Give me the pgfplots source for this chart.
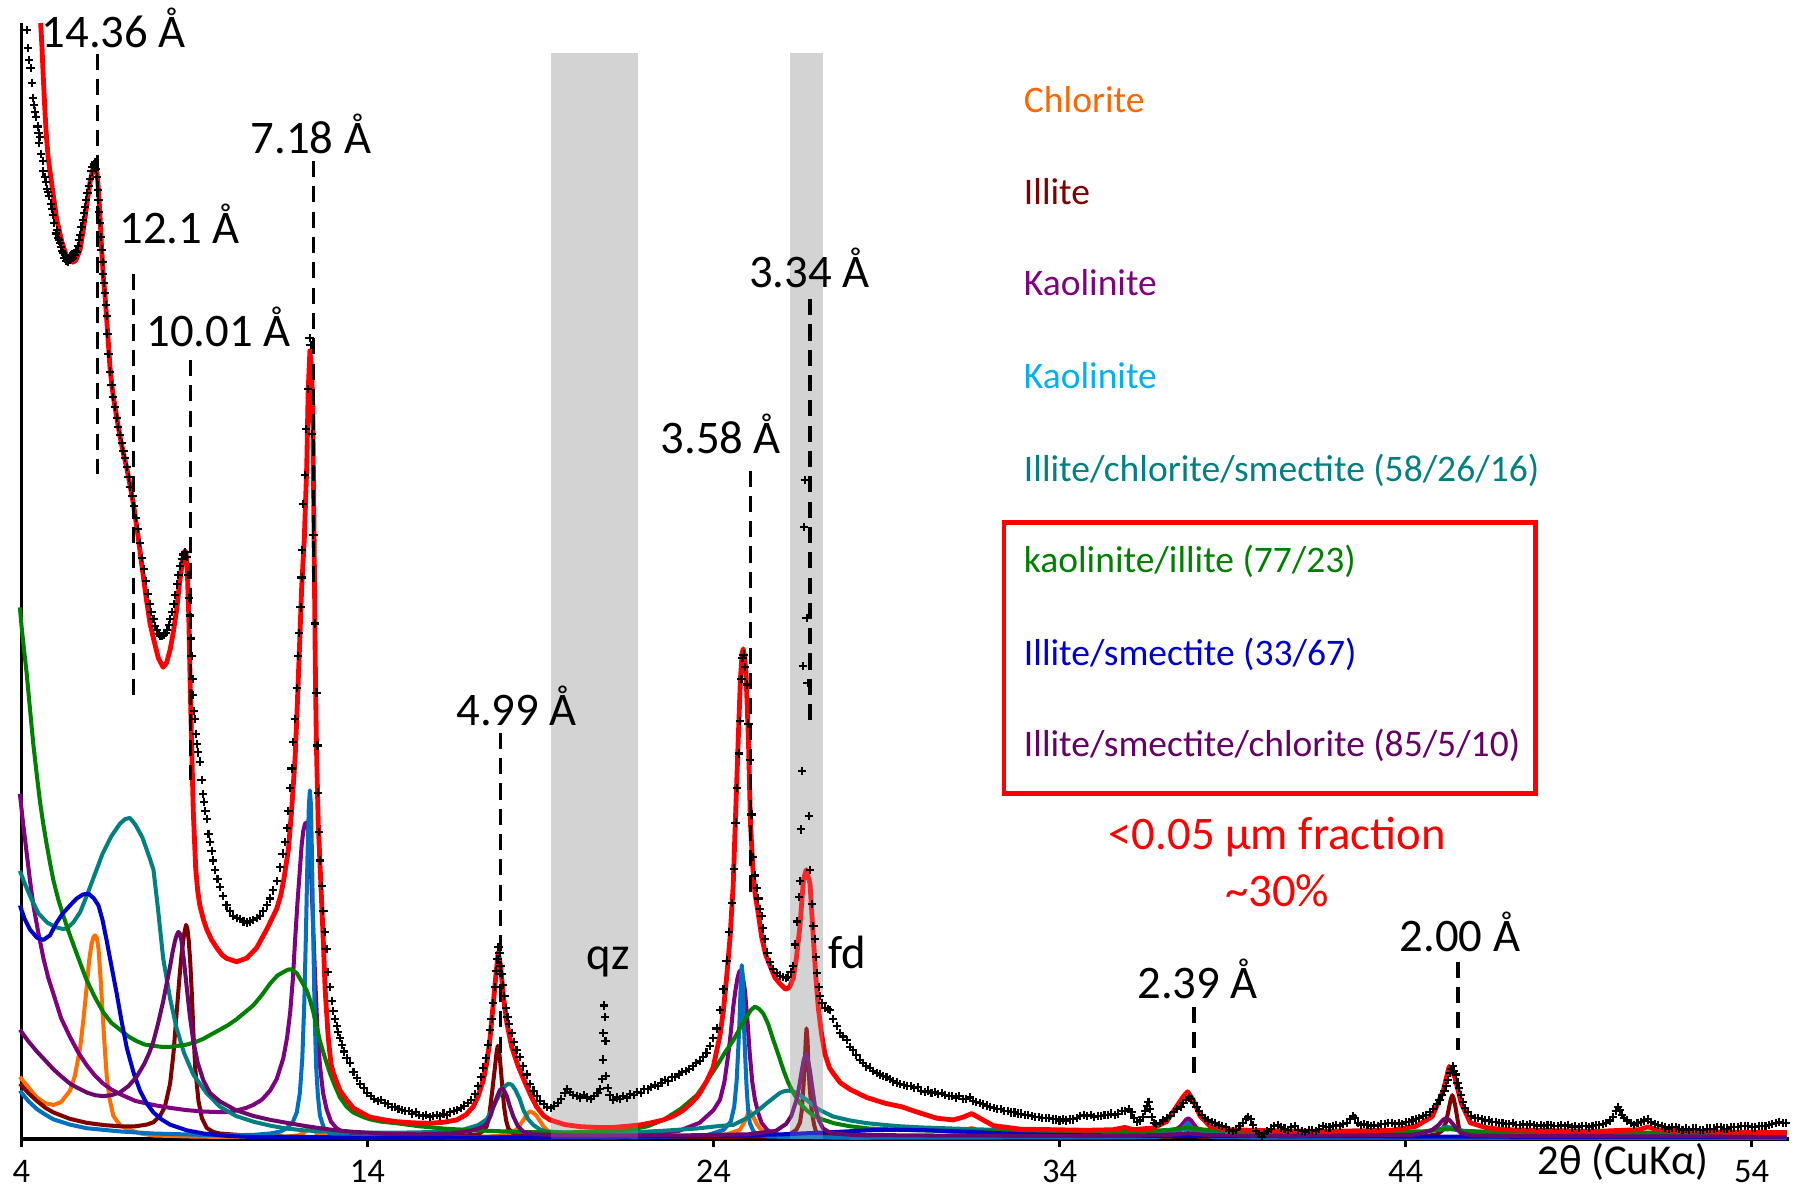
\documentclass[border=0pt]{standalone}
\usepackage{fontspec}
\setmainfont{Carlito}
\usepackage{pgfplots}
\usepackage{pgfplotstable}
\pgfplotsset{compat=1.18}
\definecolor{chl}{RGB}{255,110,0}
\definecolor{ill}{RGB}{128,0,0}
\definecolor{kao}{RGB}{128,0,128}
\definecolor{kaob}{RGB}{0,112,192}
\definecolor{kaobt}{RGB}{0,176,240}
\definecolor{ics}{RGB}{0,128,128}
\definecolor{ki}{RGB}{0,128,0}
\definecolor{is}{RGB}{0,0,204}
\definecolor{isc}{RGB}{108,8,108}
\definecolor{chlt}{RGB}{255,102,0}
\definecolor{isct}{RGB}{102,0,102}
\definecolor{bandgray}{RGB}{211,211,211}
\newcommand{\plab}{\fontsize{20.3}{24}\selectfont}
\newcommand{\leg}{\fontsize{16.3}{19}\selectfont}
\tikzset{pk/.style={black, line width=1.6pt, dash pattern=on 7pt off 4pt},
  lab/.style={anchor=base west, inner sep=0pt, font=\plab},
  comp/.style={line width=1.75pt, line join=round, no markers}}
\pgfplotstableread{
x y
4.17 964
4.20 948
4.23 938
4.27 931
4.30 918
4.33 905
4.37 899
4.40 893
4.43 888
4.47 880
4.50 874
4.52 866
4.54 871
4.58 856
4.62 850
4.64 841
4.68 836
4.71 832
4.75 826
4.78 823
4.81 820
4.85 813
4.88 808
4.91 803
4.95 796
5.00 787
5.03 790
5.06 783
5.09 781
5.12 779
5.15 775
5.18 772
5.21 770
5.24 766
5.27 768
5.30 763
5.33 765
5.36 762
5.39 766
5.42 764
5.45 768
5.48 766
5.51 770
5.54 768
5.57 772
5.60 771
5.63 776
5.66 781
5.70 786
5.74 793
5.78 799
5.81 805
5.84 810
5.88 816
5.91 822
5.95 828
5.99 834
6.03 841
6.06 845
6.10 847
6.13 849
6.16 843
6.18 836
6.21 825
6.23 816
6.25 806
6.27 796
6.30 784
6.32 773
6.35 762
6.37 752
6.40 744
6.42 735
6.45 725
6.47 715
6.49 700
6.52 682
6.56 667
6.61 655
6.66 645
6.71 636
6.76 627
6.80 619
6.85 612
6.90 605
6.95 598
7.00 592
7.05 584
7.10 575
7.15 567
7.21 559
7.26 550
7.32 540
7.37 530
7.43 518
7.49 505
7.54 495
7.60 485
7.66 474
7.71 465
7.76 458
7.82 452
7.87 446
7.92 442
7.97 439
8.02 437
8.07 437
8.12 438
8.17 440
8.21 442
8.26 447
8.30 452
8.35 458
8.40 465
8.45 473
8.50 482
8.54 490
8.59 498
8.64 504
8.69 508
8.74 510
8.78 506
8.82 490
8.85 470
8.87 455
8.90 435
8.92 420
8.95 400
8.97 386
9.00 372
9.02 365
9.05 352
9.07 343
9.11 336
9.16 328
9.21 312
9.25 300
9.28 293
9.32 285
9.36 278
9.41 265
9.45 258
9.50 250
9.55 242
9.60 234
9.67 226
9.74 219
9.83 211
9.93 203
10.03 198
10.13 194
10.22 192
10.32 191
10.42 189
10.51 188
10.60 189
10.70 190
10.80 192
10.90 194
10.99 198
11.09 203
11.18 209
11.28 216
11.38 224
11.48 236
11.55 248
11.62 258
11.68 270
11.72 285
11.76 305
11.81 322
11.86 345
11.91 365
11.96 392
12.00 420
12.03 440
12.07 462
12.10 488
12.12 512
12.15 552
12.20 577
12.23 617
12.29 652
12.33 696
12.36 690
12.39 613
12.44 525
12.49 448
12.53 388
12.56 342
12.58 301
12.60 267
12.63 242
12.68 220
12.73 198
12.78 180
12.82 165
12.87 145
12.92 132
12.97 120
13.02 111
13.07 104
13.12 98
13.16 93
13.21 88
13.26 82
13.33 76
13.40 70
13.50 66
13.60 58
13.70 53
13.80 48
13.90 44
14.00 40
14.10 37
14.20 35
14.30 33
14.40 34
14.50 31
14.60 30
14.70 28
14.80 28
14.90 26
15.00 25
15.10 24
15.20 24
15.30 22
15.40 23
15.50 21
15.60 20
15.70 21
15.80 19
15.90 20
16.00 21
16.10 20
16.20 22
16.30 21
16.40 23
16.50 24
16.60 25
16.70 27
16.80 29
16.90 31
17.00 34
17.10 39
17.20 46
17.28 54
17.35 62
17.42 70
17.48 82
17.54 95
17.59 104
17.64 118
17.68 132
17.72 146
17.76 156
17.79 167
17.82 162
17.85 150
17.88 143
17.92 134
17.96 124
18.00 114
18.05 106
18.10 100
18.17 92
18.24 84
18.31 77
18.40 71
18.50 63
18.60 56
18.70 48
18.80 42
18.90 37
19.00 33
19.10 30
19.20 28
19.30 27
19.40 29
19.50 31
19.60 35
19.70 40
19.78 43
19.86 41
19.95 38
20.05 37
20.14 36
20.25 38
20.35 36
20.45 35
20.55 37
20.65 40
20.72 43
20.77 52
20.80 69
20.82 92
20.84 116
20.86 106
20.88 85
20.90 55
20.94 44
21.00 38
21.10 34
21.20 36
21.30 35
21.40 37
21.50 36
21.60 39
21.70 38
21.80 41
21.90 40
22.00 43
22.10 43
22.20 45
22.30 47
22.40 46
22.50 49
22.60 51
22.70 50
22.80 54
22.90 54
23.00 56
23.10 58
23.20 59
23.30 61
23.40 63
23.50 66
23.60 68
23.70 71
23.80 75
23.90 81
23.99 88
24.09 96
24.19 112
24.29 130
24.38 155
24.45 180
24.53 205
24.59 235
24.64 275
24.69 305
24.73 335
24.77 363
24.81 400
24.84 418
24.87 421
24.91 410
24.96 395
25.01 361
25.05 329
25.10 282
25.15 245
25.20 229
25.25 218
25.30 209
25.35 200
25.39 194
25.44 183
25.49 174
25.56 162
25.63 154
25.72 148
25.83 144
25.93 142
26.02 141
26.10 140
26.16 141
26.23 145
26.29 150
26.36 169
26.42 189
26.47 210
26.50 224
26.52 269
26.55 320
26.58 411
26.61 532
26.64 573
26.69 453
26.72 396
26.76 281
26.79 234
26.84 204
26.89 185
26.93 174
26.97 158
27.00 144
27.04 132
27.08 124
27.15 118
27.22 114
27.30 113
27.37 112
27.45 104
27.56 98
27.66 92
27.75 89
27.85 86
27.95 80
28.04 77
28.13 73
28.23 69
28.33 66
28.42 63
28.52 62
28.62 59
28.72 57
28.81 56
28.90 55
29.00 54
29.10 52
29.20 50
29.30 49
29.39 48
29.50 47
29.60 46
29.70 46
29.80 44
29.90 45
30.00 42
30.10 41
30.20 42
30.30 40
30.40 41
30.50 39
30.60 40
30.70 38
30.80 37
30.90 37
31.00 36
31.10 37
31.20 35
31.30 35
31.40 36
31.50 33
31.60 32
31.70 31
31.80 30
31.90 29
32.00 28
32.10 27
32.20 26
32.30 26
32.40 24
32.50 24
32.60 23
32.70 23
32.80 22
32.90 22
33.00 21
33.10 21
33.20 20
33.30 19
33.40 19
33.50 18
33.60 18
33.70 18
33.80 17
33.90 17
34.00 16
34.10 17
34.20 16
34.30 17
34.40 17
34.50 18
34.60 20
34.70 21
34.80 20
34.90 21
35.00 19
35.10 20
35.20 20
35.30 21
35.40 21
35.50 22
35.60 21
35.70 22
35.80 24
35.90 24
36.00 26
36.08 23
36.16 18
36.24 15
36.32 16
36.40 19
36.47 24
36.53 29
36.57 32
36.61 26
36.66 19
36.72 14
36.80 13
36.90 14
37.00 16
37.10 18
37.20 20
37.30 23
37.40 26
37.50 28
37.58 31
37.66 34
37.74 36
37.80 35
37.88 31
37.96 28
38.04 24
38.12 21
38.20 18
38.30 16
38.40 15
38.50 14
38.60 12
38.70 11
38.80 10
38.90 8
39.00 7
39.10 8
39.20 11
39.30 14
39.38 17
39.45 19
39.52 17
39.60 12
39.68 7
39.76 4
39.84 2
39.92 5
40.00 7
40.10 9
40.20 11
40.30 12
40.40 10
40.50 9
40.60 8
40.70 10
40.80 11
40.90 8
41.00 7
41.10 6
41.20 8
41.30 8
41.40 7
41.50 9
41.60 11
41.70 10
41.80 10
41.90 11
42.00 12
42.10 11
42.20 13
42.30 14
42.40 17
42.47 20
42.54 18
42.62 14
42.70 12
42.80 13
42.90 12
43.00 11
43.10 12
43.20 11
43.30 13
43.40 13
43.50 14
43.60 14
43.70 13
43.80 14
43.90 13
44.00 15
44.10 15
44.20 16
44.30 17
44.40 18
44.50 20
44.60 21
44.70 23
44.80 26
44.90 30
44.98 34
45.05 38
45.12 42
45.18 46
45.23 51
45.28 57
45.32 61
45.36 63
45.40 59
45.45 56
45.50 49
45.55 44
45.60 38
45.66 32
45.72 27
45.80 23
45.90 20
46.00 18
46.10 18
46.20 17
46.30 16
46.40 16
46.50 15
46.60 15
46.70 14
46.80 14
46.90 13
47.00 13
47.10 14
47.20 12
47.30 12
47.40 13
47.50 12
47.60 13
47.70 12
47.80 11
47.90 12
48.00 11
48.10 12
48.20 12
48.30 11
48.40 11
48.50 12
48.60 11
48.70 12
48.80 10
48.90 11
49.00 10
49.10 11
49.20 11
49.30 10
49.40 11
49.50 12
49.60 12
49.70 13
49.80 14
49.90 16
50.00 19
50.07 24
50.13 28
50.19 25
50.25 21
50.32 18
50.40 16
50.50 14
50.60 12
50.70 14
50.80 15
50.90 16
51.00 17
51.10 15
51.20 13
51.30 12
51.40 11
51.50 10
51.60 9
51.70 10
51.80 10
51.90 9
52.00 8
52.10 9
52.20 8
52.30 9
52.40 9
52.50 8
52.60 8
52.70 9
52.80 9
52.90 9
53.00 10
53.10 10
53.20 9
53.30 9
53.40 10
53.50 10
53.60 10
53.70 11
53.80 11
53.90 11
54.00 10
54.10 10
54.20 11
54.30 11
54.40 11
54.50 12
54.60 13
54.70 14
54.80 15
54.90 14
55.00 14
}\measured
\begin{document}
\begin{tikzpicture}
\begin{axis}[
  at={(0pt,0pt)}, anchor=south west,
  scale only axis, width=768.3pt, height=485pt,
  xmin=4, xmax=55.08, ymin=0, ymax=970,
  axis x line=bottom, axis y line=left,
  axis line style={line width=1.4pt, -},
  xtick={4,14,24,34,44,54}, ytick=\empty,
  tick align=outside, major tick length=3.5pt,
  every tick/.style={black, line width=1.4pt},
  xticklabel style={font=\fontsize{15}{18}\selectfont, anchor=base, yshift=-15.6pt},
  /pgf/number format/assume math mode=true,
  clip=false,
  set layers,
]
\begin{pgfonlayer}{axis background}
\fill[bandgray] (axis cs:19.31,0) rectangle (axis cs:21.83,944);
\fill[bandgray] (axis cs:26.21,0) rectangle (axis cs:27.18,944);
\end{pgfonlayer}
% Chlorite
\addplot[chl, comp] coordinates {
(3.96,54) (4.20,45) (4.45,36) (4.70,31) (4.93,29.5) (5.15,32) (5.41,42) (5.55,55) (5.70,79) (5.80,105) (5.89,132) (5.96,155) (6.03,169) (6.08,175) (6.13,177) (6.18,175) (6.23,166) (6.29,140) (6.35,110) (6.41,80) (6.47,54) (6.55,35) (6.66,20) (6.85,12) (7.05,9) (7.40,5) (7.82,3) (9.0,2) (10.5,1.6) (11.67,2) (12.0,3) (12.15,5) (12.25,8) (12.34,9.5) (12.44,8) (12.54,4.7) (12.8,2.5) (13.11,1.6) (15,1.2) (17.5,2) (18.0,3.5) (18.31,8) (18.51,16.5) (18.62,22) (18.70,24) (18.80,22.5) (18.89,20) (19.09,10.7) (19.28,5) (19.6,2.5) (21,1.5) (23.5,2) (24.4,4) (24.77,8) (24.9,15) (25.0,22) (25.06,24) (25.14,20) (25.25,13) (25.35,9) (25.54,3.5) (26,2) (28,1.5) (30.5,2) (31.1,4) (31.3,8) (31.46,9.5) (31.6,8) (31.8,4) (32.2,2) (35,1.5) (37.7,2.5) (40,1.2) (55,1)};
% Illite
\addplot[ill, comp] coordinates {
(3.96,48) (4.20,40) (4.45,33) (4.70,27) (4.93,23) (5.40,17.5) (5.89,14) (6.40,12) (6.85,11) (7.30,11) (7.62,12.4) (7.82,14.5) (8.01,20) (8.15,28) (8.30,48) (8.40,75) (8.49,110) (8.57,140) (8.63,160) (8.70,177) (8.76,186) (8.80,183) (8.84,172) (8.88,155) (8.93,125) (8.97,95) (9.03,60) (9.12,33) (9.22,18) (9.36,9.5) (9.55,6) (9.74,4.7) (10.5,3) (11.67,2) (13,1.5) (16.5,2) (17.2,4) (17.35,7) (17.45,11) (17.52,20) (17.59,37) (17.64,50) (17.69,63) (17.74,77) (17.77,81) (17.81,76) (17.85,63) (17.90,45) (17.95,28) (18.01,16) (18.07,9.3) (18.20,5) (18.31,3.5) (18.8,2) (22,1.5) (25.5,2) (26.2,4) (26.40,8) (26.50,14) (26.55,24) (26.60,45) (26.64,66) (26.67,88) (26.69,96) (26.72,86) (26.74,66) (26.78,45) (26.84,24) (26.91,12) (26.98,5) (27.2,2.5) (28,2) (35,1.5) (37.7,3) (40,1.5) (44.5,2) (44.9,4) (45.05,7) (45.16,14) (45.22,22) (45.26,28) (45.31,35) (45.35,38) (45.39,35) (45.44,28) (45.50,17) (45.55,8) (45.62,4) (45.68,2.6) (46.5,1.5) (55,1)};
% Kaolinite (purple)
\addplot[kao, comp] coordinates {
(3.96,300) (4.05,275) (4.15,250) (4.25,225) (4.35,203) (4.50,178) (4.64,157) (4.78,140) (4.93,126) (5.15,105) (5.41,88.5) (5.65,75) (5.89,64) (6.13,55) (6.37,48) (6.60,43) (6.85,39) (7.30,33) (7.82,29.5) (8.30,27) (8.78,25) (9.26,23.8) (9.74,23.3) (10.0,23.5) (10.22,24.8) (10.50,27) (10.70,29.5) (10.95,34) (11.19,42) (11.38,52) (11.57,70) (11.68,88) (11.77,110) (11.85,140) (11.91,172) (11.98,205) (12.05,234) (12.10,255) (12.15,268) (12.20,274) (12.24,275) (12.28,271) (12.31,263) (12.35,245) (12.39,219) (12.44,180) (12.49,141) (12.55,100) (12.63,64) (12.72,40) (12.82,26) (12.95,15) (13.11,9.3) (13.35,5) (13.59,3) (14,2) (16,1.5) (20,2) (22,3.5) (23,7) (23.6,14) (24.0,25) (24.19,34) (24.32,50) (24.43,74) (24.50,92) (24.57,114) (24.63,128) (24.69,139) (24.74,145) (24.78,146.5) (24.83,144) (24.87,137) (24.91,129) (24.98,104) (25.05,74) (25.12,50) (25.20,34) (25.30,22) (25.39,14) (25.55,8) (25.73,4.2) (26.2,2.5) (27,1.5) (36.5,2) (37.2,5) (37.5,11) (37.65,16.5) (37.72,18) (37.80,16) (37.95,10) (38.2,4) (38.6,2) (40,1.2) (55,1)};
% Kaolinite (blue)
\addplot[kaob, comp] coordinates {
(3.96,42) (4.20,33) (4.45,26) (4.70,21) (4.93,17) (5.40,12.5) (5.89,9.3) (6.85,6.5) (7.82,4.7) (9.74,3.1) (10.70,3.5) (11.19,4.7) (11.50,6.5) (11.67,9.3) (11.85,15) (11.96,23) (12.05,40) (12.12,70) (12.18,120) (12.23,185) (12.27,245) (12.31,290) (12.34,303) (12.37,290) (12.40,245) (12.44,170) (12.48,105) (12.52,63) (12.57,38) (12.63,20) (12.75,9) (12.92,4.7) (13.59,1.6) (16,1.2) (22,1.5) (23.8,3) (24.3,8) (24.5,15) (24.60,28) (24.67,50) (24.72,80) (24.75,100) (24.79,135) (24.82,151) (24.85,140) (24.88,100) (24.92,70) (24.96,44) (25.00,26) (25.05,14) (25.15,7) (25.25,4) (25.6,2) (28,1) (36.8,1.5) (37.3,4) (37.55,9) (37.70,14) (37.85,9) (38.1,4) (38.5,1.5) (55,0.8)};
% Illite/chlorite/smectite
\addplot[ics, comp] coordinates {
(3.96,233) (4.10,222) (4.30,208) (4.50,196) (4.75,188) (5.00,184) (5.20,182.5) (5.31,183) (5.50,188) (5.70,197) (5.90,212) (6.10,228) (6.35,248) (6.60,263) (6.85,274) (7.00,278) (7.14,279) (7.30,273) (7.50,262) (7.70,245) (7.82,234) (7.95,200) (8.10,157) (8.30,122) (8.49,96) (8.70,75) (8.97,56) (9.35,40) (9.74,28) (10.20,20) (10.70,15) (11.20,11.5) (11.67,9) (12.15,7.5) (13,6) (14,5.5) (15,5.5) (16,6) (16.77,8) (17.20,12) (17.45,17) (17.60,25) (17.74,34) (17.90,43) (17.98,46) (18.08,48) (18.18,47) (18.27,43) (18.40,35) (18.51,25) (18.65,17) (18.80,12) (19.00,8) (19.18,6.5) (20.14,5) (21.5,5.5) (22.5,7) (23.5,9) (24.1,11) (24.58,12.3) (25.06,19.5) (25.30,25) (25.54,31) (25.75,36) (25.92,40) (26.05,41.5) (26.16,42) (26.28,41.5) (26.41,39.8) (26.55,37) (26.69,34) (26.88,29) (27.08,25) (27.46,19.5) (27.95,16) (28.43,13.7) (29.0,12) (29.39,11) (30.0,10) (30.93,9) (32.0,8) (33.5,7) (34.78,6.4) (36.5,6.5) (37.3,7.5) (37.67,8.5) (38.1,7) (39.5,6) (42,5.5) (44.5,6) (45.0,8.5) (45.18,10.7) (45.35,9.5) (45.7,6.5) (46.5,5) (50,4) (55,3.5)};
% kaolinite/illite
\addplot[ki, comp] coordinates {
(3.96,462) (4.01,445) (4.08,425) (4.155,405) (4.25,374) (4.348,343) (4.45,316) (4.541,293) (4.64,273) (4.734,256) (4.83,240) (4.926,225) (5.07,208) (5.215,194) (5.36,181) (5.504,169) (5.70,153) (5.889,138) (6.13,123) (6.371,110) (6.60,101) (6.852,95) (7.10,89) (7.334,85) (7.57,82) (7.815,81) (8.06,80) (8.297,80) (8.54,81) (8.778,82) (9.02,84) (9.26,87) (9.50,91) (9.741,95) (9.98,99) (10.22,104) (10.46,110) (10.70,116) (10.95,125) (11.19,135) (11.40,142) (11.57,145) (11.70,147) (11.77,147.5) (11.85,146.5) (11.96,144) (12.10,137) (12.25,129) (12.35,120) (12.44,110) (12.54,97) (12.63,85) (12.78,70) (12.92,57) (13.05,47) (13.21,36) (13.40,28) (13.59,23) (13.88,19) (14.08,17) (14.40,15) (14.85,13.6) (15.5,11) (16.2,9) (16.77,8) (17.5,7) (18.5,6) (19.66,5.5) (20.6,6.5) (21.59,8) (22.1,11) (22.55,16.5) (23.05,26) (23.52,38) (23.8,50) (24.09,63) (24.33,75) (24.58,86) (24.80,98) (24.96,106) (25.08,112) (25.20,115) (25.32,113) (25.44,109) (25.58,100) (25.73,86) (25.88,73) (26.02,60) (26.16,49) (26.31,40) (26.50,31) (26.69,25) (26.9,20) (27.18,16.6) (27.5,13.5) (27.95,11) (28.5,9) (29.39,8) (30.5,7) (32,6.5) (34,6) (36.5,6.5) (37.2,8) (37.7,10) (38.2,8) (39.5,6.5) (42,6) (44.5,6.5) (45.0,8) (45.3,8.5) (45.7,7) (47,5.5) (51,5.5) (55,5)};
% Illite/smectite
\addplot[is, comp] coordinates {
(3.96,203) (4.10,191) (4.25,182) (4.45,175) (4.64,173) (4.83,177) (5.02,188) (5.20,196) (5.41,203) (5.60,209) (5.79,212.6) (5.95,213) (6.10,209) (6.23,203) (6.35,190) (6.47,172) (6.62,148) (6.76,126) (6.90,102) (7.05,79) (7.25,57) (7.43,42) (7.62,31) (7.82,23) (8.05,17) (8.30,12.4) (8.78,7.5) (9.26,4.7) (10.0,2.5) (10.70,1.6) (13.59,1) (16,1) (20,1.5) (24,2.5) (26,4) (27.5,6) (28.5,7.5) (29.3,8) (30.2,7.5) (31.5,6) (33,4) (35,3) (38,2.5) (45,2) (55,1.5)};
% Illite/smectite/chlorite
\addplot[isc, comp] coordinates {
(3.96,95) (4.20,85) (4.45,76) (4.70,68) (4.93,60.5) (5.17,54) (5.41,48) (5.65,44) (5.89,40.4) (6.13,38) (6.37,37.2) (6.60,38) (6.85,40.4) (7.10,46) (7.33,54) (7.55,65) (7.70,75) (7.82,85) (7.95,100) (8.10,119.5) (8.20,135) (8.30,150) (8.37,162) (8.44,172) (8.49,177) (8.54,180) (8.59,178) (8.63,172) (8.70,155) (8.78,132) (8.87,107) (8.97,85) (9.10,66) (9.26,51) (9.45,40) (9.74,32.6) (10.2,25) (10.70,20) (11.2,16.5) (11.67,14) (12.15,11.5) (12.63,9.3) (13.1,7.5) (13.59,6.2) (14.5,4.5) (15.5,4) (16.5,5) (17.0,7) (17.30,10) (17.45,13) (17.56,20) (17.64,28) (17.74,36) (17.83,42.6) (17.91,44) (17.97,41) (18.03,37) (18.12,28) (18.22,19.4) (18.35,11) (18.51,6.4) (18.8,4) (20,3) (23,3) (25,4) (25.8,7) (26.1,13) (26.25,20) (26.40,34) (26.48,46) (26.55,59) (26.61,69) (26.67,74) (26.73,69) (26.79,59) (26.86,44) (26.93,29) (27.05,16) (27.17,9) (27.4,5) (28,3.5) (30,3) (35,2.5) (37.2,3.5) (37.7,5) (38.2,3.5) (40,2.5) (44.2,3.5) (44.6,6) (44.77,7.9) (44.95,12) (45.03,15) (45.10,17) (45.18,18) (45.26,16.5) (45.35,13.6) (45.45,9.5) (45.61,5) (45.9,3) (47,2.5) (55,2)};
% total fit
\addplot[red, line width=2.1pt, line join=round, no markers] coordinates {
(4.56,970) (4.60,948) (4.64,920) (4.69,890) (4.73,870) (4.78,852) (4.88,830) (5.02,800) (5.17,780) (5.31,767) (5.41,763) (5.50,762) (5.58,764) (5.70,773) (5.78,788) (5.84,800) (5.92,818) (5.99,832) (6.06,842) (6.12,847) (6.16,846) (6.20,836) (6.23,825) (6.27,805) (6.32,775) (6.37,750) (6.42,733) (6.47,712) (6.52,690) (6.56,672) (6.61,657) (6.66,645) (6.76,627) (6.85,611) (6.95,596) (7.05,583) (7.15,567) (7.25,550) (7.37,525) (7.50,495) (7.62,468) (7.72,448) (7.82,435) (7.96,418) (8.10,410) (8.20,414) (8.30,425) (8.39,440) (8.49,460) (8.58,485) (8.66,503) (8.72,511) (8.76,510) (8.80,492) (8.84,455) (8.87,410) (8.92,345) (8.97,285) (9.04,235) (9.10,215) (9.16,203) (9.26,191) (9.36,182) (9.50,173) (9.65,166) (9.80,160) (9.93,157) (10.22,154) (10.51,157) (10.80,166) (11.09,182) (11.38,200) (11.50,212) (11.60,228) (11.72,252) (11.81,285) (11.91,330) (11.96,365) (12.03,420) (12.10,478) (12.18,523) (12.25,586) (12.29,650) (12.34,685) (12.38,672) (12.42,640) (12.46,523) (12.50,400) (12.53,340) (12.58,275) (12.63,240) (12.68,205) (12.73,170) (12.78,130) (12.87,88) (12.95,65) (13.02,57) (13.21,42) (13.40,34) (13.59,27) (13.88,22) (14.07,19) (14.50,16.5) (14.85,15) (15.30,14) (15.81,13.6) (16.20,14.5) (16.58,16.5) (16.85,21) (17.06,28) (17.20,37) (17.35,51) (17.45,66) (17.54,86) (17.64,118) (17.71,141) (17.78,162) (17.85,150) (17.93,124) (18.03,101) (18.17,80) (18.36,63) (18.60,46) (18.75,36) (18.89,28) (19.10,20) (19.28,16.5) (19.70,12.5) (20.14,10.7) (20.60,10) (21.11,10) (21.50,11) (21.88,12.2) (22.20,14) (22.55,16.5) (22.85,20) (23.13,25) (23.35,31) (23.51,36) (23.61,40) (23.80,50) (23.99,62) (24.19,90) (24.29,112) (24.38,140) (24.48,175) (24.57,220) (24.65,290) (24.72,350) (24.78,400) (24.83,422) (24.86,426) (24.90,420) (24.94,405) (25.01,349) (25.07,274) (25.14,235) (25.20,214) (25.30,195) (25.39,176) (25.51,160) (25.63,151) (25.78,140) (25.92,135) (26.09,130) (26.20,132) (26.31,140) (26.40,158) (26.50,185) (26.60,225) (26.68,234) (26.79,222) (26.88,178) (26.96,140) (27.03,114) (27.12,92) (27.22,74) (27.35,62) (27.46,57) (27.66,49) (27.95,43) (28.43,36) (28.96,31) (29.43,28) (29.92,23) (30.45,18) (30.93,16.5) (31.22,19) (31.46,22) (31.70,18) (32.09,11.5) (32.86,8.5) (33.82,8) (34.78,7.5) (35.55,8) (35.89,10) (36.13,8) (36.71,9.5) (37.09,15) (37.38,28) (37.58,37) (37.70,41) (37.86,34) (38.06,20) (38.35,11) (38.83,8) (39.60,7.5) (41.50,6.5) (43.60,7.5) (44.30,11) (44.77,19.5) (45.09,42) (45.26,63) (45.42,54) (45.61,31) (45.87,14) (46.30,10) (46.84,8) (49.44,6.5) (50.74,8) (51.00,10.5) (51.26,8) (53.00,6) (55.02,5.5)};
% measured pattern
\addplot[black, only marks, mark=+, mark size=1.8pt, mark options={line width=0.9pt}] table[x=x, y=y] {\measured};
% translucent bands over the data
\fill[bandgray, opacity=0.2] (axis cs:19.31,0) rectangle (axis cs:21.83,944);
\fill[bandgray, opacity=0.2] (axis cs:26.21,0) rectangle (axis cs:27.18,944);
% reflection markers
\draw[pk] (axis cs:6.20,943) -- (axis cs:6.20,578);
\draw[pk] (axis cs:7.24,752) -- (axis cs:7.24,386);
\draw[pk] (axis cs:8.89,677) -- (axis cs:8.89,312);
\draw[pk] (axis cs:12.44,850) -- (axis cs:12.44,480);
\draw[pk] (axis cs:17.85,353) -- (axis cs:17.85,72);
\draw[pk] (axis cs:25.07,581) -- (axis cs:25.07,214);
\draw[pk] (axis cs:26.79,730) -- (axis cs:26.79,363);
\draw[pk] (axis cs:37.88,115) -- (axis cs:37.88,54);
\draw[pk] (axis cs:45.52,154) -- (axis cs:45.52,77);
\node[lab] at (axis cs:4.58,949) {14.36 Å};
\node[lab] at (axis cs:6.82,778.5) {12.1 Å};
\node[lab] at (axis cs:7.60,688.7) {10.01 Å};
\node[lab] at (axis cs:10.62,856.7) {7.18 Å};
\node[lab] at (axis cs:16.56,359) {4.99 Å};
\node[lab] at (axis cs:22.46,595.6) {3.58 Å};
\node[lab] at (axis cs:25.02,740.3) {3.34 Å};
\node[lab] at (axis cs:20.32,147.5) {qz};
\node[lab] at (axis cs:27.30,148.4) {fd};
\node[lab] at (axis cs:36.24,122.3) {2.39 Å};
\node[lab] at (axis cs:43.82,162.8) {2.00 Å};
% legend
\node[anchor=base west, inner sep=0pt, font=\leg, text=chlt] at (axis cs:32.96,891.9) {Chlorite};
\node[anchor=base west, inner sep=0pt, font=\leg, text=ill] at (axis cs:32.96,812) {Illite};
\node[anchor=base west, inner sep=0pt, font=\leg, text=kao] at (axis cs:32.96,732.8) {Kaolinite};
\node[anchor=base west, inner sep=0pt, font=\leg, text=kaobt] at (axis cs:32.96,652) {Kaolinite};
\node[anchor=base west, inner sep=0pt, font=\leg, text=ics] at (axis cs:32.96,571.6) {Illite/chlorite/smectite (58/26/16)};
\node[anchor=base west, inner sep=0pt, font=\leg, text=ki] at (axis cs:32.96,492) {kaolinite/illite (77/23)};
\node[anchor=base west, inner sep=0pt, font=\leg, text=is] at (axis cs:32.96,411.6) {Illite/smectite (33/67)};
\node[anchor=base west, inner sep=0pt, font=\leg, text=isct] at (axis cs:32.96,332) {Illite/smectite/chlorite (85/5/10)};
\draw[red, line width=2pt] (axis cs:32.40,300) rectangle (axis cs:47.76,536);
\node[anchor=base, inner sep=0pt, font=\plab, text=red] at (axis cs:40.29,252) {<0.05 µm fraction};
\node[anchor=base, inner sep=0pt, font=\plab, text=red] at (axis cs:40.29,202) {\textasciitilde 30\%};
\node[anchor=base, inner sep=0pt, font=\fontsize{18.5}{22}\selectfont] at (axis cs:50.28,-31.3) {2θ (CuKα)};
\end{axis}
\pgfresetboundingbox
\path[use as bounding box] (-9.25pt,-23pt) rectangle (774.8pt,495pt);
\end{tikzpicture}
\end{document}
